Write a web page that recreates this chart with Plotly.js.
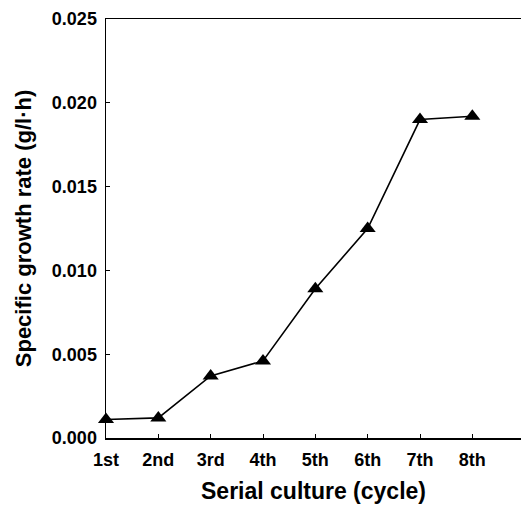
<!DOCTYPE html>
<html>
<head>
<meta charset="utf-8">
<script src="https://cdn.plot.ly/plotly-3.0.1.min.js"></script>
<style>html,body{margin:0;padding:0;background:#fff;}#chart{width:522px;height:510px;}</style>
</head>
<body>
<div id="chart"></div>
<script>
const cycles = ["1st", "2nd", "3rd", "4th", "5th", "6th", "7th", "8th"];
const cycleIndex = [1, 2, 3, 4, 5, 6, 7, 8];
const growthRate = [0.0011, 0.0012, 0.0037, 0.0046, 0.0089, 0.0125, 0.0190, 0.0192];
const yTicks = [0, 0.005, 0.010, 0.015, 0.020, 0.025];

const trace = {
  x: cycleIndex,
  y: growthRate,
  type: 'scatter',
  mode: 'lines+markers',
  line: {color: '#000', width: 1.6},
  marker: {symbol: 'triangle-up', size: 14, color: '#000'},
  cliponaxis: false,
  showlegend: false
};

const font = {family: 'Liberation Sans, Arial, sans-serif', color: '#000'};

const layout = {
  width: 522, height: 510,
  margin: {l: 106, r: 1, t: 19, b: 72},
  paper_bgcolor: '#fff', plot_bgcolor: '#fff',
  font: font,
  xaxis: {
    range: [1, 8.93],
    tickvals: cycleIndex,
    ticktext: cycles,
    showgrid: false, zeroline: false,
    showline: true, linecolor: '#000', linewidth: 1.5,
    mirror: true,
    ticks: 'inside', ticklen: 4, tickcolor: '#000', tickwidth: 1,
    tickfont: {family: font.family, size: 18, color: '#000', weight: 'bold'},
    ticklabelstandoff: 5,
    title: {text: '<b>Serial culture (cycle)</b>', font: {family: font.family, size: 23, color: '#000'}, standoff: 14},
    automargin: false
  },
  yaxis: {
    range: [0, 0.025],
    tickvals: yTicks,
    tickformat: '.3f',
    showgrid: false, zeroline: false,
    showline: true, linecolor: '#000', linewidth: 1.5,
    ticks: 'inside', ticklen: 4, tickcolor: '#000', tickwidth: 1,
    tickfont: {family: font.family, size: 18, color: '#000', weight: 'bold'},
    ticklabelstandoff: 4,
    title: {text: '<b>Specific growth rate (g/l·h)</b>', font: {family: font.family, size: 22, color: '#000'}, standoff: 14},
    automargin: false
  }
};

Plotly.newPlot('chart', [trace], layout, {displayModeBar: false, staticPlot: true});
</script>
</body>
</html>
